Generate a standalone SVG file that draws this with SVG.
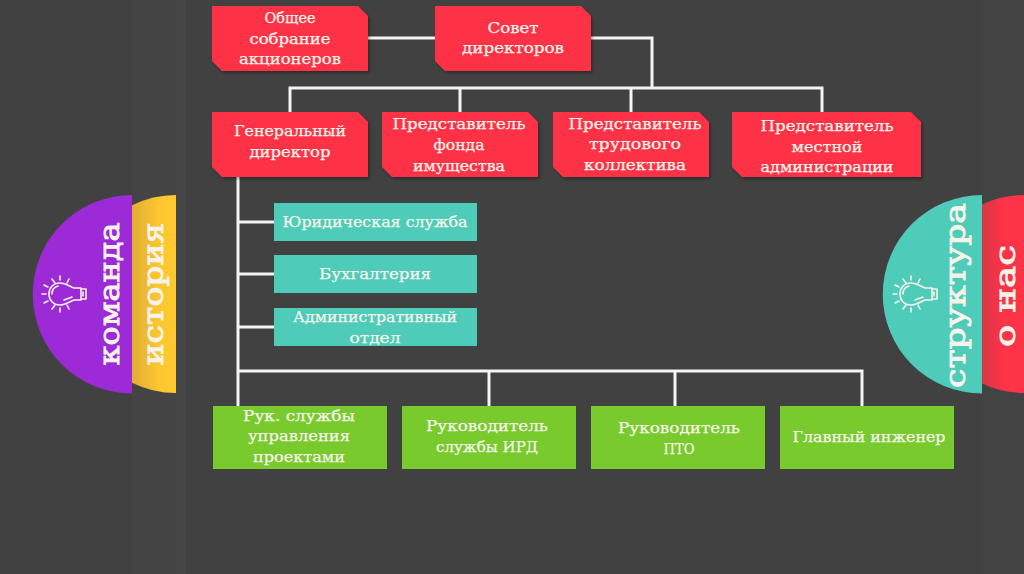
<svg xmlns="http://www.w3.org/2000/svg" width="1024" height="574" viewBox="0 0 1024 574">
<style>
text{font-family:"DejaVu Serif",serif;font-size:14.5px;fill:#f6f4ea;stroke:#f6f4ea;stroke-width:.25px;text-anchor:middle}
.side{font-size:28px;stroke-width:.9px}
.red{fill:#fd3347;filter:url(#sh)}
.teal{fill:#4fcbba}
.green{fill:#78ca2d}
.c{fill:none;stroke:#f4f4f4;stroke-width:3}
.b{fill:none;stroke:#f6f4ea;stroke-width:1.6;stroke-linecap:round;stroke-linejoin:round}
</style>
<defs>
<filter id="sh" x="-5%" y="-10%" width="110%" height="125%"><feDropShadow dx="1.5" dy="2" stdDeviation="1.5" flood-color="#000" flood-opacity=".35"/></filter>
<linearGradient id="yg" x1="0" x2="1" y1="0" y2="0"><stop offset="0" stop-color="#e0ac36"/><stop offset=".6" stop-color="#fcc62f"/><stop offset="1" stop-color="#ffc92e"/></linearGradient>
<linearGradient id="rg" x1="0" x2="1" y1="0" y2="0"><stop offset="0" stop-color="#d8384a"/><stop offset=".5" stop-color="#fd3347"/><stop offset="1" stop-color="#fd3347"/></linearGradient>
<g id="bulb">
<path class="b" d="M0 -11C-7 -11 -11 -6 -11 0C-11 6 -7 11 0 11C5 11 9 8 14 6L21 6L21 -6L14 -6C9 -8 5 -11 0 -11Z"/>
<path class="b" d="M-2 -8C-6 -7 -8 -4 -8 0M4 6L12 3M21 -5H26V5H21M23 -2V2"/>
<path class="b" d="M-18 0H-14M-16 -9L-12 -7M-16 9L-12 7M-8 -15L-5 -11M-8 15L-5 11M0 -18V-14M0 18V14M9 -15L7 -11M9 15L7 11"/>
</g>
</defs>
<rect width="1024" height="574" fill="#414141"/>
<rect x="132" width="44" height="574" fill="#444"/>
<rect x="176" width="10" height="574" fill="#464646"/>
<rect x="982" width="42" height="574" fill="#434343"/>

<g id="side-left">
<path d="M132 205.300A99 99 0 0 1 176 195V393A99 99 0 0 1 132 382.700Z" fill="url(#yg)"/>
<path d="M132 195A99 99 0 0 0 132 393.500Z" fill="#9c2ad6"/>
<use href="#bulb" x="60" y="294"/>
<text class="side" transform="translate(119 294) rotate(-90)" textLength="143" lengthAdjust="spacingAndGlyphs">команда</text>
<text class="side" transform="translate(163 294) rotate(-90)" textLength="143" lengthAdjust="spacingAndGlyphs">история</text>
</g>
<g id="side-right">
<path d="M982 204.400A99 99 0 0 1 1024 195V393A99 99 0 0 1 982 383.600Z" fill="url(#rg)"/>
<path d="M982 195A99 99 0 0 0 982 393.500Z" fill="#4fcbba"/>
<use href="#bulb" x="911" y="294"/>
<text class="side" transform="translate(965 295.500) rotate(-90)" textLength="185" lengthAdjust="spacingAndGlyphs">структура</text>
<text class="side" transform="translate(1015 296) rotate(-90)" textLength="102" lengthAdjust="spacingAndGlyphs">о нас</text>
</g>

<g id="connectors">
<path class="c" d="M368 38H435M591 38H652V88M290 112V88H822V112M460 88V112M631 88V112"/>
<path class="c" d="M238 177V406M238 222H274M238 274H274M238 327H274M238 371H862V406M489 371V406M675 371V406"/>
</g>

<g id="n1"><path class="red" d="M212 6H358L368 16V71H222L212 61Z"/><text x="290" y="23" textLength="51" lengthAdjust="spacingAndGlyphs">Общее</text><text x="290" y="44" textLength="81" lengthAdjust="spacingAndGlyphs">собрание</text><text x="290" y="64" textLength="102" lengthAdjust="spacingAndGlyphs">акционеров</text></g>
<g id="n2"><path class="red" d="M435 6H581L591 16V71H445L435 61Z"/><text x="513" y="33" textLength="51" lengthAdjust="spacingAndGlyphs">Совет</text><text x="513" y="53" textLength="102" lengthAdjust="spacingAndGlyphs">директоров</text></g>
<g id="n3"><path class="red" d="M212 112H358L368 122V177H222L212 167Z"/><text x="290" y="136" textLength="112" lengthAdjust="spacingAndGlyphs">Генеральный</text><text x="290" y="157" textLength="81" lengthAdjust="spacingAndGlyphs">директор</text></g>
<g id="n4"><path class="red" d="M382 112H528L538 122V177H392L382 167Z"/><text x="459" y="129" textLength="133" lengthAdjust="spacingAndGlyphs">Представитель</text><text x="459" y="150" textLength="51" lengthAdjust="spacingAndGlyphs">фонда</text><text x="459" y="171" textLength="92" lengthAdjust="spacingAndGlyphs">имущества</text></g>
<g id="n5"><path class="red" d="M553 112H699L709 122V177H563L553 167Z"/><text x="635" y="129" textLength="133" lengthAdjust="spacingAndGlyphs">Представитель</text><text x="635" y="149" textLength="92" lengthAdjust="spacingAndGlyphs">трудового</text><text x="635" y="170" textLength="102" lengthAdjust="spacingAndGlyphs">коллектива</text></g>
<g id="n6"><path class="red" d="M732 112H911L921 122V177H742L732 167Z"/><text x="827" y="131" textLength="133" lengthAdjust="spacingAndGlyphs">Представитель</text><text x="827" y="152" textLength="71" lengthAdjust="spacingAndGlyphs">местной</text><text x="827" y="172" textLength="133" lengthAdjust="spacingAndGlyphs">администрации</text></g>

<g id="t1"><rect class="teal" x="274" y="203" width="203" height="38"/><text x="375" y="227" textLength="185" lengthAdjust="spacingAndGlyphs">Юридическая служба</text></g>
<g id="t2"><rect class="teal" x="274" y="255" width="203" height="38"/><text x="375" y="279" textLength="112" lengthAdjust="spacingAndGlyphs">Бухгалтерия</text></g>
<g id="t3"><rect class="teal" x="274" y="308" width="203" height="38"/><text x="375" y="322" textLength="164" lengthAdjust="spacingAndGlyphs">Административный</text><text x="375" y="343" textLength="51" lengthAdjust="spacingAndGlyphs">отдел</text></g>

<g id="g1"><rect class="green" x="213" y="406" width="174" height="63"/><text x="299" y="421" textLength="112" lengthAdjust="spacingAndGlyphs">Рук. службы</text><text x="299" y="441" textLength="102" lengthAdjust="spacingAndGlyphs">управления</text><text x="299" y="462" textLength="92" lengthAdjust="spacingAndGlyphs">проектами</text></g>
<g id="g2"><rect class="green" x="402" y="406" width="174" height="63"/><text x="487" y="431" textLength="122" lengthAdjust="spacingAndGlyphs">Руководитель</text><text x="487" y="452" textLength="102" lengthAdjust="spacingAndGlyphs">службы ИРД</text></g>
<g id="g3"><rect class="green" x="591" y="406" width="174" height="63"/><text x="679" y="433" textLength="122" lengthAdjust="spacingAndGlyphs">Руководитель</text><text x="679" y="454" textLength="31" lengthAdjust="spacingAndGlyphs">ПТО</text></g>
<g id="g4"><rect class="green" x="780" y="406" width="174" height="63"/><text x="869" y="442" textLength="153" lengthAdjust="spacingAndGlyphs">Главный инженер</text></g>
</svg>
